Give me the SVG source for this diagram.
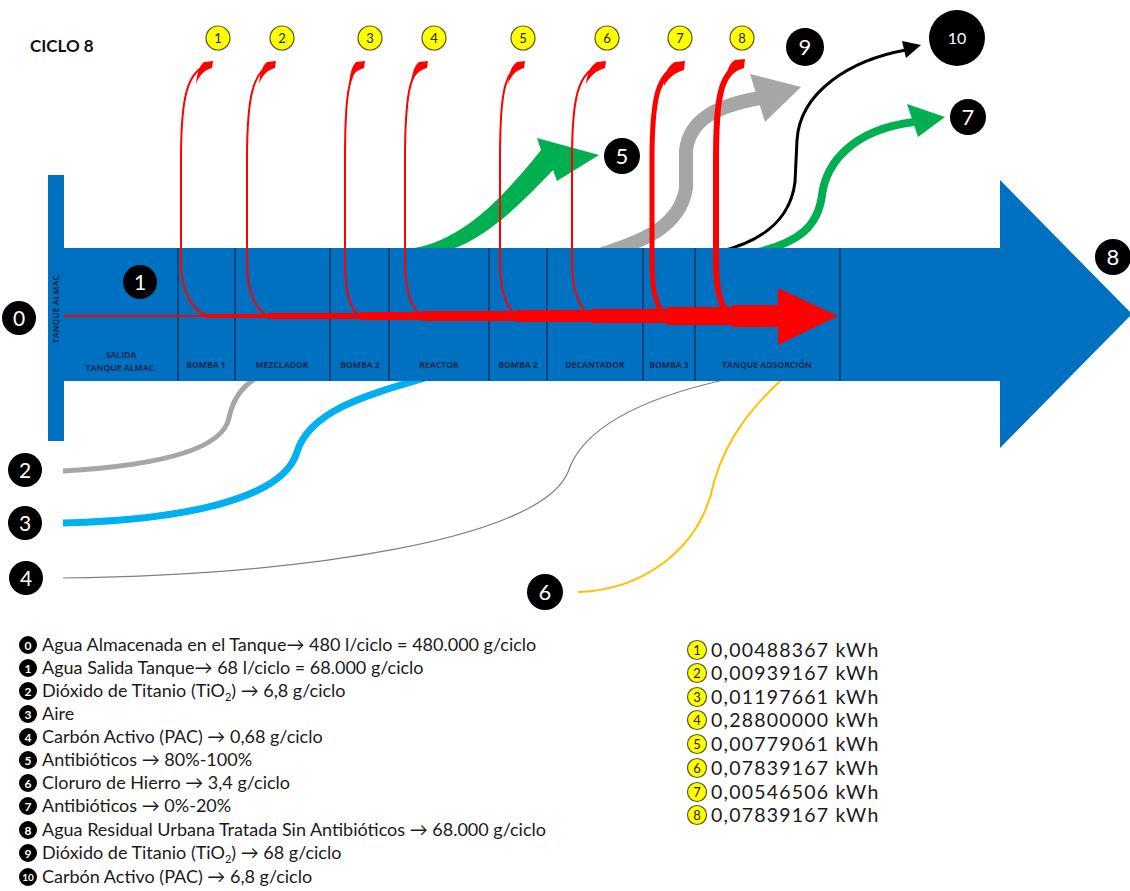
<svg xmlns="http://www.w3.org/2000/svg" width="1130" height="891" viewBox="0 0 1130 891">
<style>
.blk{fill:#000}
.wn{fill:#fff;font-family:Lato,"Liberation Sans",sans-serif;text-anchor:middle}
.yc{fill:#ffff00;stroke:#5a5a1e;stroke-width:1.2}
.yn{fill:#222;font-family:Lato,"Liberation Sans",sans-serif;text-anchor:middle;font-size:13px}
.lbl{fill:#1a2d55;font-family:"Open Sans","Liberation Sans",sans-serif;font-weight:bold;font-size:8.6px;text-anchor:middle}
.div{stroke:#1a2f55;stroke-width:1.3}
.leg{fill:#1a1a1a;font-family:Lato,"Liberation Sans",sans-serif;font-size:18px}
.legr{fill:#1a1a1a;font-family:Lato,"Liberation Sans",sans-serif;font-size:19.5px;letter-spacing:1.2px}
.red{fill:none;stroke:#ff0000;stroke-linecap:round}
</style>

<text x="30" y="52" style="font-family:Lato,'Liberation Sans',sans-serif;font-weight:bold;font-size:17px;fill:#111">CICLO 8</text>

<!-- connectors under the bar -->
<g id="connectors">
  <!-- green 5 -->
  <path d="M 405 249 C 460 245, 505 195, 541 150 L 537 138 L 599 155 L 557 181 L 553 170 C 520 205, 480 245, 440 252 Z" fill="#00b050"/>
  <!-- gray 9 -->
  <path d="M 600 255 C 640 242, 680 228, 686 188 L 686 150 C 690 120, 715 106, 760 98" fill="none" stroke="#a6a6a6" stroke-width="14"/>
  <polygon points="750,74 801,87 765,122" fill="#a6a6a6"/>
  <!-- black 10 -->
  <path d="M 718 252 C 760 242, 790 222, 795 182 L 797 140 C 800 92, 850 60, 906 50" fill="none" stroke="#000" stroke-width="3"/>
  <polygon points="902,41 921,45 906,58" fill="#000"/>
  <!-- green 7 -->
  <path d="M 755 253 C 800 242, 818 226, 822 195 C 826 165, 850 130, 914 122" fill="none" stroke="#00b050" stroke-width="8"/>
  <polygon points="907,104 945,117 918,137" fill="#00b050"/>
  <!-- bottom inputs -->
  <path d="M 63 471 C 150 466, 222 452, 229 418 C 233 398, 243 386, 256 378" fill="none" stroke="#a6a6a6" stroke-width="5"/>
  <path d="M 63 523 C 180 520, 283 500, 297 452 C 310 410, 370 394, 425 378" fill="none" stroke="#00b0f0" stroke-width="7"/>
  <path d="M 63 578 C 300 575, 540 540, 568 472 C 585 420, 660 394, 728 379" fill="none" stroke="#7f7f7f" stroke-width="1.2"/>
  <path d="M 578 592 C 640 590, 700 552, 714 482 C 728 432, 760 400, 782 379" fill="none" stroke="#ffc000" stroke-width="2"/>
</g>

<!-- main bar -->
<g id="bar">
  <rect x="48" y="175" width="16" height="266" fill="#0070c0"/>
  <polygon points="64,248 1000,248 1000,180 1132,314 1000,448 1000,381 64,381" fill="#0070c0"/>
  <text transform="translate(59,308) rotate(-90)" class="lbl" style="font-size:8.5px">TANQUE ALMAC.</text>
  <line class="div" x1="178" y1="248" x2="178" y2="381"/>
  <line class="div" x1="235" y1="248" x2="235" y2="381"/>
  <line class="div" x1="330" y1="248" x2="330" y2="381"/>
  <line class="div" x1="389" y1="248" x2="389" y2="381"/>
  <line class="div" x1="489" y1="248" x2="489" y2="381"/>
  <line class="div" x1="547" y1="248" x2="547" y2="381"/>
  <line class="div" x1="643" y1="248" x2="643" y2="381"/>
  <line class="div" x1="695" y1="248" x2="695" y2="381"/>
  <line class="div" x1="840" y1="248" x2="840" y2="381"/>
  <text class="lbl" x="121" y="358">SALIDA</text>
  <text class="lbl" x="121" y="371">TANQUE ALMAC.</text>
  <text class="lbl" x="206" y="368">BOMBA 1</text>
  <text class="lbl" x="282" y="368">MEZCLADOR</text>
  <text class="lbl" x="360" y="368">BOMBA 2</text>
  <text class="lbl" x="439" y="368">REACTOR</text>
  <text class="lbl" x="518" y="368">BOMBA 2</text>
  <text class="lbl" x="595" y="368">DECANTADOR</text>
  <text class="lbl" x="669" y="368">BOMBA 3</text>
  <text class="lbl" x="767" y="368">TANQUE ADSORCIÓN</text>
</g>

<!-- red energy flows -->
<g id="red-flows">
  <rect x="64" y="315" width="142" height="2" fill="#ff0000"/>
  <rect x="205" y="314" width="64" height="4" fill="#ff0000"/>
  <rect x="268" y="313" width="93" height="6" fill="#ff0000"/>
  <rect x="360" y="312" width="63" height="8" fill="#ff0000"/>
  <rect x="422" y="311" width="96" height="10" fill="#ff0000"/>
  <rect x="517" y="310" width="76" height="12" fill="#ff0000"/>
  <rect x="592" y="309" width="76" height="14" fill="#ff0000"/>
  <rect x="667" y="307" width="66" height="18" fill="#ff0000"/>
  <rect x="732" y="305" width="48" height="22" fill="#ff0000"/>
  <polygon points="778,288 838,316 778,345" fill="#ff0000"/>

  <path class="red" stroke-width="2" d="M 210 64 C 186 70, 181 100, 181 160 L 181 262 C 181 296, 195 311, 207 316"/>
  <path class="red" stroke-width="2" d="M 273 64 C 252 70, 247 100, 247 160 L 247 262 C 247 296, 258 311, 268 316"/>
  <path class="red" stroke-width="2" d="M 362 64 C 348 70, 345 100, 345 160 L 345 262 C 345 296, 352 311, 360 316"/>
  <path class="red" stroke-width="2" d="M 425 64 C 409 70, 405 100, 405 160 L 405 262 C 405 296, 414 311, 422 316"/>
  <path class="red" stroke-width="2" d="M 522 64 C 503 70, 500 100, 500 160 L 500 262 C 500 296, 509 311, 517 316"/>
  <path class="red" stroke-width="2" d="M 603 64 C 577 70, 572 100, 572 160 L 572 262 C 572 296, 582 311, 592 316"/>
  <path class="red" stroke-width="5" d="M 681 66 C 657 72, 652 100, 652 160 L 652 262 C 652 296, 658 311, 667 316"/>
  <path class="red" stroke-width="6" d="M 741 65 C 720 72, 716 100, 716 160 L 716 262 C 716 296, 723 311, 732 316"/>
  <g fill="#ff0000">
    <path d="M 204 62 L 213 61 L 212 68 C 204 70, 199 76, 196 84 C 197 74, 199 66, 204 62 Z"/>
    <path d="M 267 62 L 276 61 L 275 68 C 267 70, 262 76, 259 84 C 260 74, 262 66, 267 62 Z"/>
    <path d="M 356 62 L 365 61 L 364 68 C 356 70, 351 76, 349 84 C 350 74, 352 66, 356 62 Z"/>
    <path d="M 419 62 L 428 61 L 427 68 C 419 70, 414 76, 411 84 C 412 74, 414 66, 419 62 Z"/>
    <path d="M 517 62 L 525 61 L 524 68 C 516 70, 511 76, 508 84 C 509 74, 511 66, 517 62 Z"/>
    <path d="M 597 62 L 606 61 L 605 68 C 597 70, 590 76, 586 84 C 587 74, 590 66, 597 62 Z"/>
    <path d="M 675 62 L 685 61 L 684 70 C 676 72, 668 78, 664 86 C 664 76, 667 66, 675 62 Z"/>
    <path d="M 735 60 L 745 59 L 744 68 C 736 70, 729 76, 726 84 C 726 74, 728 64, 735 60 Z"/>
  </g>
</g>

<!-- numbered black nodes -->
<g id="n0"><circle class="blk" cx="19" cy="318" r="17"/><text class="wn" x="19" y="326" font-size="21">0</text></g>
<g id="n1"><circle class="blk" cx="140" cy="282" r="17"/><text class="wn" x="140" y="290" font-size="21">1</text></g>
<g id="n2"><circle class="blk" cx="25" cy="470" r="17"/><text class="wn" x="25" y="478" font-size="21">2</text></g>
<g id="n3"><circle class="blk" cx="25" cy="523" r="17"/><text class="wn" x="25" y="531" font-size="21">3</text></g>
<g id="n4"><circle class="blk" cx="26" cy="578" r="17"/><text class="wn" x="26" y="586" font-size="21">4</text></g>
<g id="n5"><circle class="blk" cx="622" cy="156" r="18"/><text class="wn" x="622" y="164" font-size="22">5</text></g>
<g id="n6"><circle class="blk" cx="545" cy="592" r="18"/><text class="wn" x="545" y="600" font-size="22">6</text></g>
<g id="n7"><circle class="blk" cx="968" cy="117" r="18"/><text class="wn" x="968" y="125" font-size="22">7</text></g>
<g id="n8"><circle class="blk" cx="1113" cy="257" r="18"/><text class="wn" x="1113" y="265" font-size="22">8</text></g>
<g id="n9"><circle class="blk" cx="805" cy="47" r="19"/><text class="wn" x="805" y="55" font-size="22">9</text></g>
<g id="n10"><circle class="blk" cx="957" cy="38" r="28"/><text class="wn" x="957" y="44" font-size="16">10</text></g>

<!-- yellow energy markers -->
<g id="e1"><circle class="yc" cx="218" cy="38" r="12"/><text class="yn" x="218" y="43">1</text></g>
<g id="e2"><circle class="yc" cx="282" cy="38" r="12"/><text class="yn" x="282" y="43">2</text></g>
<g id="e3"><circle class="yc" cx="370" cy="38" r="12"/><text class="yn" x="370" y="43">3</text></g>
<g id="e4"><circle class="yc" cx="434" cy="38" r="12"/><text class="yn" x="434" y="43">4</text></g>
<g id="e5"><circle class="yc" cx="523" cy="38" r="12"/><text class="yn" x="523" y="43">5</text></g>
<g id="e6"><circle class="yc" cx="607" cy="38" r="12"/><text class="yn" x="607" y="43">6</text></g>
<g id="e7"><circle class="yc" cx="680" cy="38" r="12"/><text class="yn" x="680" y="43">7</text></g>
<g id="e8"><circle class="yc" cx="742" cy="38" r="12"/><text class="yn" x="742" y="43">8</text></g>

<!-- legend left -->
<g id="legend-materials">
  <g><circle class="blk" cx="28" cy="645" r="9"/><text class="wn" x="28" y="649.5" font-size="12" font-weight="bold">0</text><text class="leg" x="42" y="651">Agua Almacenada en el Tanque→ 480 l/ciclo = 480.000 g/ciclo</text></g>
  <g><circle class="blk" cx="28" cy="668" r="9"/><text class="wn" x="28" y="672.5" font-size="12" font-weight="bold">1</text><text class="leg" x="42" y="674">Agua Salida Tanque→ 68 l/ciclo = 68.000 g/ciclo</text></g>
  <g><circle class="blk" cx="28" cy="691" r="9"/><text class="wn" x="28" y="695.5" font-size="12" font-weight="bold">2</text><text class="leg" x="42" y="697">Dióxido de Titanio (TiO<tspan font-size="11" dy="4">2</tspan><tspan dy="-4">) → 6,8 g/ciclo</tspan></text></g>
  <g><circle class="blk" cx="28" cy="714" r="9"/><text class="wn" x="28" y="718.5" font-size="12" font-weight="bold">3</text><text class="leg" x="42" y="720">Aire</text></g>
  <g><circle class="blk" cx="28" cy="737" r="9"/><text class="wn" x="28" y="741.5" font-size="12" font-weight="bold">4</text><text class="leg" x="42" y="743">Carbón Activo (PAC) → 0,68 g/ciclo</text></g>
  <g><circle class="blk" cx="28" cy="760" r="9"/><text class="wn" x="28" y="764.5" font-size="12" font-weight="bold">5</text><text class="leg" x="42" y="766">Antibióticos → 80%-100%</text></g>
  <g><circle class="blk" cx="28" cy="783" r="9"/><text class="wn" x="28" y="787.5" font-size="12" font-weight="bold">6</text><text class="leg" x="42" y="789">Cloruro de Hierro → 3,4 g/ciclo</text></g>
  <g><circle class="blk" cx="28" cy="806" r="9"/><text class="wn" x="28" y="810.5" font-size="12" font-weight="bold">7</text><text class="leg" x="42" y="812">Antibióticos → 0%-20%</text></g>
  <g><circle class="blk" cx="28" cy="830" r="9"/><text class="wn" x="28" y="834.5" font-size="12" font-weight="bold">8</text><text class="leg" x="42" y="836">Agua Residual Urbana Tratada Sin Antibióticos → 68.000 g/ciclo</text></g>
  <g><circle class="blk" cx="28" cy="853" r="9"/><text class="wn" x="28" y="857.5" font-size="12" font-weight="bold">9</text><text class="leg" x="42" y="859">Dióxido de Titanio (TiO<tspan font-size="11" dy="4">2</tspan><tspan dy="-4">) → 68 g/ciclo</tspan></text></g>
  <g><circle class="blk" cx="28" cy="877" r="9"/><text class="wn" x="28" y="881" font-size="10" font-weight="bold">10</text><text class="leg" x="42" y="883">Carbón Activo (PAC) → 6,8 g/ciclo</text></g>
</g>

<!-- legend right -->
<g id="legend-energy">
  <g><circle class="yc" cx="697" cy="650" r="9.5"/><text class="yn" x="697" y="654.5" font-size="12">1</text><text class="legr" x="711" y="657">0,00488367 kWh</text></g>
  <g><circle class="yc" cx="697" cy="673" r="9.5"/><text class="yn" x="697" y="677.5" font-size="12">2</text><text class="legr" x="711" y="680">0,00939167 kWh</text></g>
  <g><circle class="yc" cx="697" cy="697" r="9.5"/><text class="yn" x="697" y="701.5" font-size="12">3</text><text class="legr" x="711" y="704">0,01197661 kWh</text></g>
  <g><circle class="yc" cx="697" cy="720" r="9.5"/><text class="yn" x="697" y="724.5" font-size="12">4</text><text class="legr" x="711" y="727">0,28800000 kWh</text></g>
  <g><circle class="yc" cx="697" cy="744" r="9.5"/><text class="yn" x="697" y="748.5" font-size="12">5</text><text class="legr" x="711" y="751">0,00779061 kWh</text></g>
  <g><circle class="yc" cx="697" cy="768" r="9.5"/><text class="yn" x="697" y="772.5" font-size="12">6</text><text class="legr" x="711" y="775">0,07839167 kWh</text></g>
  <g><circle class="yc" cx="697" cy="792" r="9.5"/><text class="yn" x="697" y="796.5" font-size="12">7</text><text class="legr" x="711" y="799">0,00546506 kWh</text></g>
  <g><circle class="yc" cx="697" cy="815" r="9.5"/><text class="yn" x="697" y="819.5" font-size="12">8</text><text class="legr" x="711" y="822">0,07839167 kWh</text></g>
</g>
</svg>
